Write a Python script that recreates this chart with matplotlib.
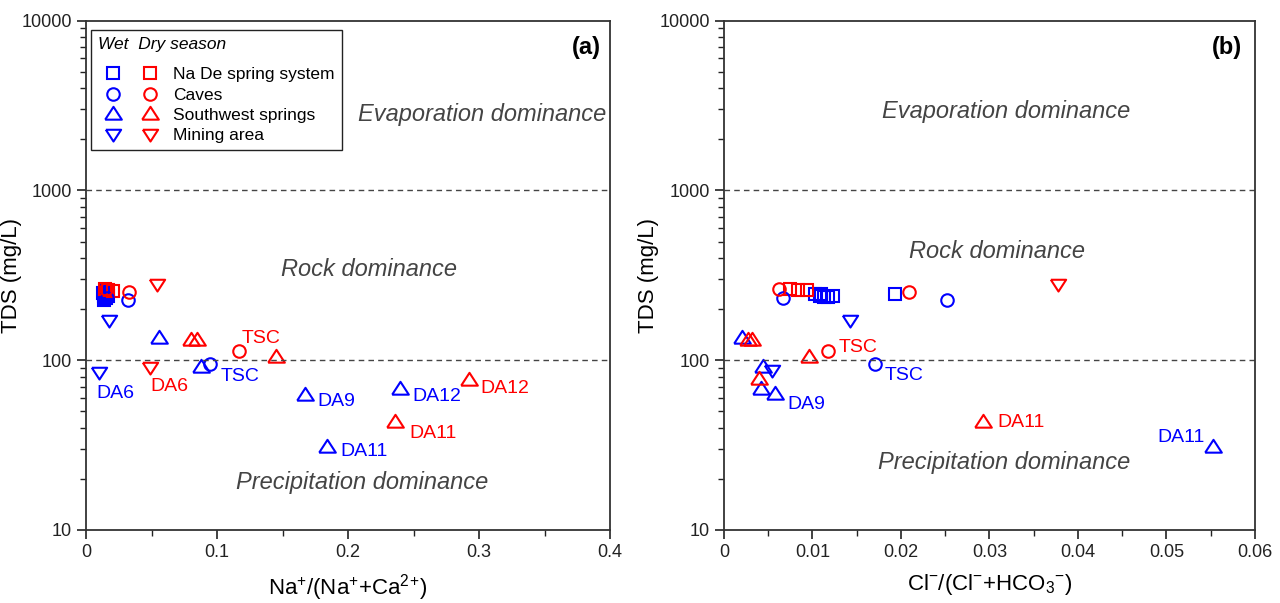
import matplotlib
matplotlib.use("Agg")
from matplotlib import pyplot as plt
from matplotlib.legend_handler import HandlerTuple
from matplotlib.ticker import FixedLocator, MultipleLocator, NullFormatter

plt.rcParams['font.family'] = ['Liberation Sans', 'DejaVu Sans']
plt.rcParams['mathtext.fontset'] = 'custom'
plt.rcParams['mathtext.rm'] = 'Liberation Sans'
plt.rcParams['mathtext.it'] = 'Liberation Sans:italic'

BLUE = '#0000ff'
RED = '#ff0000'

# ---- panel (a): Na+/(Na+ + Ca2+) vs TDS ----
a_wet_spring_x = [0.013, 0.014, 0.015, 0.016, 0.014, 0.017, 0.015]
a_wet_spring_y = [250, 240, 232, 245, 226, 238, 255]
a_dry_spring_x = [0.0145, 0.0206, 0.017]
a_dry_spring_y = [262, 255, 258]
a_wet_cave_x = [0.032, 0.095, 0.016]
a_wet_cave_y = [225, 95, 232]
a_dry_cave_x = [0.033, 0.117, 0.015]
a_dry_cave_y = [251, 113, 262]
a_wet_sw_x = [0.056, 0.088, 0.167, 0.240, 0.184]
a_wet_sw_y = [135, 91, 62, 68, 31]
a_dry_sw_x = [0.080, 0.085, 0.145, 0.292, 0.236]
a_dry_sw_y = [131, 131, 104, 76, 43]
a_wet_mine_x = [0.0176, 0.010]
a_wet_mine_y = [172, 85]
a_dry_mine_x = [0.054, 0.049]
a_dry_mine_y = [280, 91]

# ---- panel (b): Cl-/(Cl- + HCO3-) vs TDS ----
b_wet_spring_x = [0.0103, 0.0108, 0.0113, 0.0118, 0.0110, 0.0123, 0.0193]
b_wet_spring_y = [245, 240, 237, 237, 245, 240, 245]
b_dry_spring_x = [0.0075, 0.0084, 0.0094]
b_dry_spring_y = [262, 258, 258]
b_wet_cave_x = [0.0067, 0.0252, 0.0171]
b_wet_cave_y = [232, 225, 95]
b_dry_cave_x = [0.0062, 0.0209, 0.0118]
b_dry_cave_y = [262, 251, 113]
b_wet_sw_x = [0.0020, 0.0044, 0.0042, 0.0058, 0.0553]
b_wet_sw_y = [135, 91, 68, 63, 31]
b_dry_sw_x = [0.0027, 0.0032, 0.0096, 0.0040, 0.0293]
b_dry_sw_y = [131, 131, 104, 77, 43]
b_wet_mine_x = [0.0142, 0.0054]
b_wet_mine_y = [172, 87]
b_dry_mine_x = [0.0377]
b_dry_mine_y = [280]

groups = ["Na De spring system", "Caves", "Southwest springs", "Mining area"]

# squat triangles like the original software draws
tri_up = [(-1, -0.62), (1, -0.62), (0, 0.92), (-1, -0.62)]
tri_dn = [(-1, 0.62), (1, 0.62), (0, -0.92), (-1, 0.62)]
markers = ['s', 'o', tri_up, tri_dn]
msizes = [9, 9, 12, 11]

# sample labels: (x, y, text, colour)
a_labels = [(0.010, 85, "DA6", BLUE), (0.049, 91, "DA6", RED),
            (0.117, 113, "TSC", RED), (0.095, 95, "TSC", BLUE),
            (0.167, 62, "DA9", BLUE), (0.240, 68, "DA12", BLUE),
            (0.292, 76, "DA12", RED), (0.236, 43, "DA11", RED),
            (0.184, 31, "DA11", BLUE)]
a_offsets = [(-3, -21, 'left'), (0, -19, 'left'), (2, 13, 'left'),
             (10, -13, 'left'), (13, -6, 'left'), (12, -8, 'left'),
             (12, -8, 'left'), (14, -11, 'left'), (13, -5, 'left')]
b_labels = [(0.0118, 113, "TSC", RED), (0.0171, 95, "TSC", BLUE),
            (0.0058, 63, "DA9", BLUE), (0.0293, 43, "DA11", RED),
            (0.0553, 31, "DA11", BLUE)]
b_offsets = [(10, 4, 'left'), (9, -12, 'left'), (12, -10, 'left'),
             (14, 0, 'left'), (-9, 9, 'right')]

fig = plt.figure(figsize=(12.8, 6.03), dpi=100)
ax1 = fig.add_axes([0.0672, 0.1211, 0.4094, 0.8446])
ax2 = fig.add_axes([0.5656, 0.1211, 0.4148, 0.8446])


def draw_panel(ax, series, labels, offsets):
    handles = []
    for i, (wx, wy, dx, dy) in enumerate(series):
        hw, = ax.plot(wx, wy, linestyle='none', marker=markers[i], ms=msizes[i],
                      mfc='none', mec=BLUE, mew=1.5)
        hd, = ax.plot(dx, dy, linestyle='none', marker=markers[i], ms=msizes[i],
                      mfc='none', mec=RED, mew=1.5)
        handles.append((hw, hd))
    for (x, y, t, c), (ox, oy, ha) in zip(labels, offsets):
        ax.annotate(t, (x, y), xytext=(ox, oy), textcoords='offset pixels',
                    color=c, fontsize=14, ha=ha, va='center')
    ax.set_yscale('log')
    ax.set_ylim(10, 10000)
    ax.axhline(100, color='#444444', ls=(0, (4, 3)), lw=1)
    ax.axhline(1000, color='#444444', ls=(0, (4, 3)), lw=1)
    ax.yaxis.set_major_locator(FixedLocator([10, 100, 1000, 10000]))
    ax.set_yticklabels(['10', '100', '1000', '10000'])
    ax.yaxis.set_minor_formatter(NullFormatter())
    ax.tick_params(which='both', direction='out', labelsize=13,
                   colors='#222222', top=False, right=False)
    ax.tick_params(which='major', length=6.5, width=1.2)
    ax.tick_params(which='minor', length=4.5, width=1.0)
    for s in ax.spines.values():
        s.set_linewidth(1.3)
        s.set_color('#333333')
    ax.set_ylabel("TDS (mg/L)", fontsize=16)
    ax.yaxis.set_label_coords(-0.122, 0.5)
    return handles


h = draw_panel(ax1, [(a_wet_spring_x, a_wet_spring_y, a_dry_spring_x, a_dry_spring_y),
                     (a_wet_cave_x, a_wet_cave_y, a_dry_cave_x, a_dry_cave_y),
                     (a_wet_sw_x, a_wet_sw_y, a_dry_sw_x, a_dry_sw_y),
                     (a_wet_mine_x, a_wet_mine_y, a_dry_mine_x, a_dry_mine_y)],
               a_labels, a_offsets)
draw_panel(ax2, [(b_wet_spring_x, b_wet_spring_y, b_dry_spring_x, b_dry_spring_y),
                 (b_wet_cave_x, b_wet_cave_y, b_dry_cave_x, b_dry_cave_y),
                 (b_wet_sw_x, b_wet_sw_y, b_dry_sw_x, b_dry_sw_y),
                 (b_wet_mine_x, b_wet_mine_y, b_dry_mine_x, b_dry_mine_y)],
           b_labels, b_offsets)

ax1.set_xlim(0, 0.4)
ax1.set_xticks([0, 0.1, 0.2, 0.3, 0.4])
ax1.set_xticklabels(['0', '0.1', '0.2', '0.3', '0.4'])
ax1.xaxis.set_minor_locator(MultipleLocator(0.05))
ax1.set_xlabel("Na$^{+}$/(Na$^{+}$+Ca$^{2}$$^{+}$)", fontsize=16, labelpad=8)

ax2.set_xlim(0, 0.06)
ax2.set_xticks([0, 0.01, 0.02, 0.03, 0.04, 0.05, 0.06])
ax2.set_xticklabels(['0', '0.01', '0.02', '0.03', '0.04', '0.05', '0.06'])
ax2.xaxis.set_minor_locator(MultipleLocator(0.005))
ax2.set_xlabel("Cl$^{-}$/(Cl$^{-}$+HCO$_3$$^{-}$)", fontsize=16, labelpad=8)

zone_kw = dict(fontsize=17, style='italic', color='#444444', ha='center', va='center')
ax1.text(0.755, 0.815, "Evaporation dominance", transform=ax1.transAxes, **zone_kw)
ax1.text(0.540, 0.511, "Rock dominance", transform=ax1.transAxes, **zone_kw)
ax1.text(0.527, 0.094, "Precipitation dominance", transform=ax1.transAxes, **zone_kw)
ax2.text(0.531, 0.821, "Evaporation dominance", transform=ax2.transAxes, **zone_kw)
ax2.text(0.514, 0.546, "Rock dominance", transform=ax2.transAxes, **zone_kw)
ax2.text(0.528, 0.132, "Precipitation dominance", transform=ax2.transAxes, **zone_kw)

ax1.text(0.955, 0.948, "(a)", transform=ax1.transAxes, fontsize=17,
         fontweight='bold', ha='center', va='center')
ax2.text(0.948, 0.948, "(b)", transform=ax2.transAxes, fontsize=17,
         fontweight='bold', ha='center', va='center')

leg = ax1.legend(h, groups, loc='upper left', bbox_to_anchor=(0.0095, 0.982),
                 borderaxespad=0, fontsize=12.5, title="Wet  Dry season",
                 title_fontsize=12.5, alignment='left', fancybox=False,
                 edgecolor='#222222', framealpha=1, handlelength=3.85,
                 handletextpad=0.5, labelspacing=0.3, borderpad=0.4,
                 handler_map={tuple: HandlerTuple(ndivide=None, pad=0.4)})
leg.get_title().set_fontstyle('italic')
leg.get_frame().set_linewidth(1.0)
leg._legend_box.sep = 11

fig.savefig("out.png", dpi=100)
